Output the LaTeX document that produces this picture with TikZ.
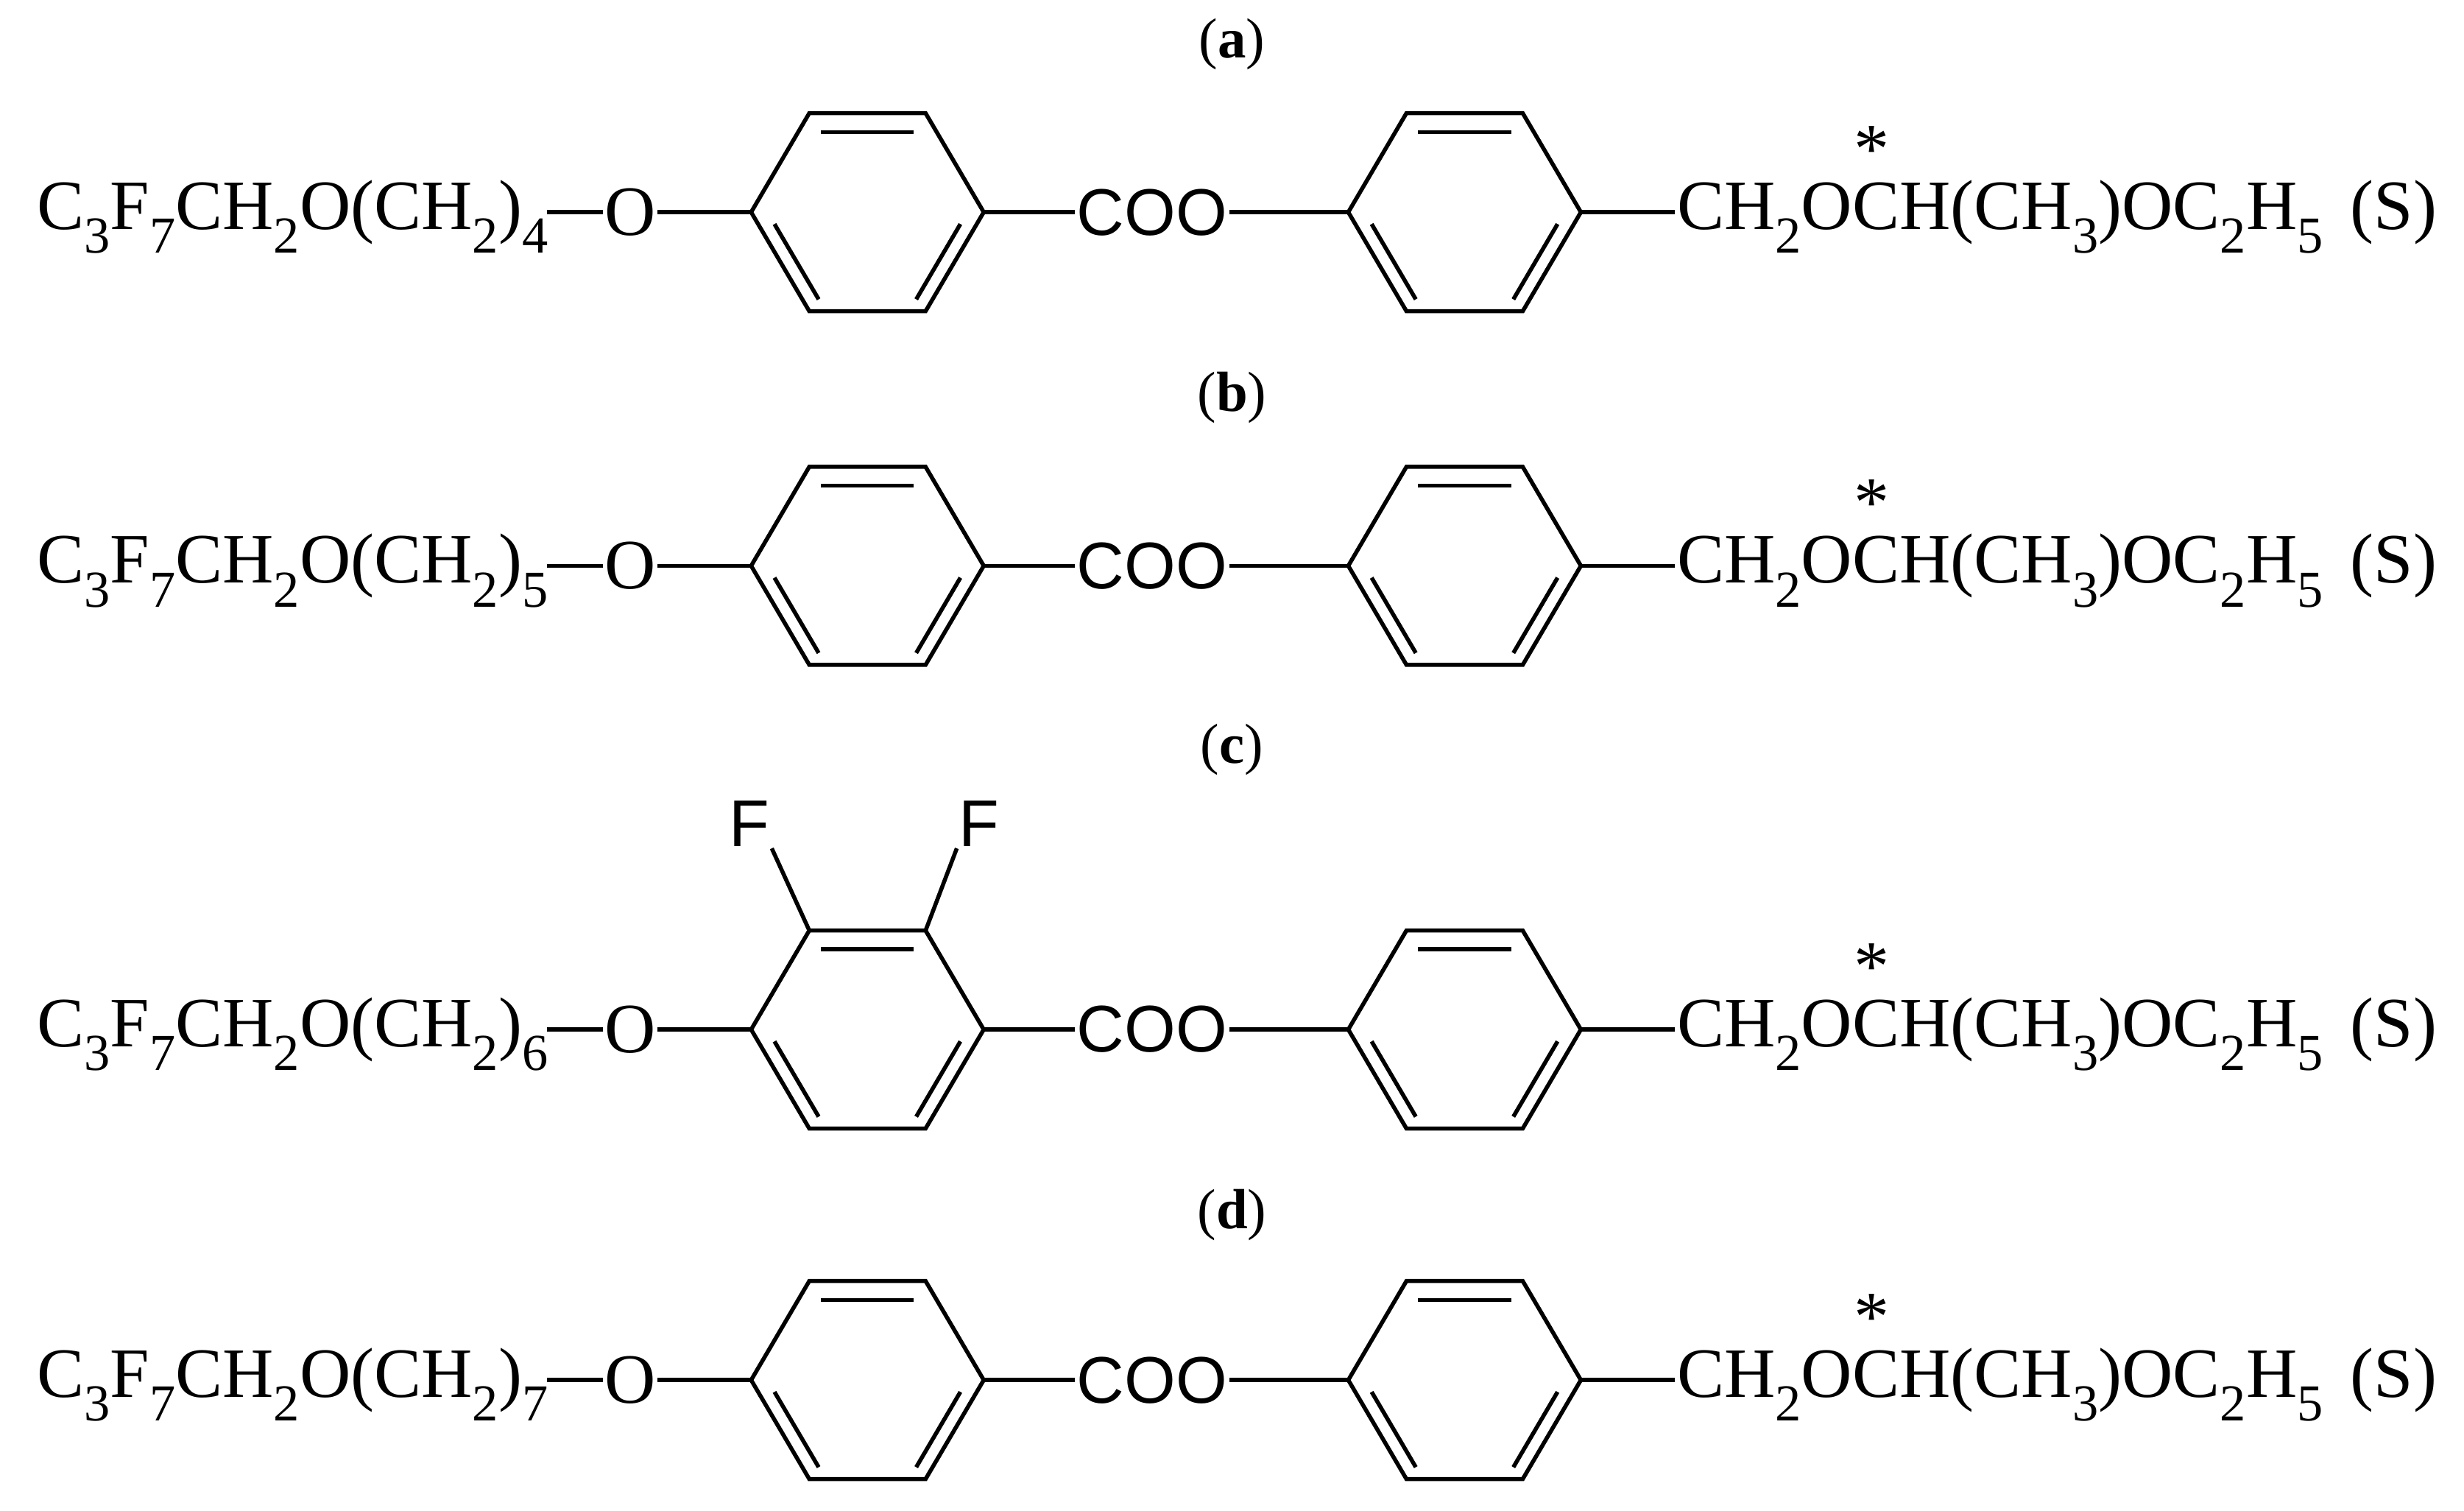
\documentclass[tikz,border=0pt]{standalone}
\usepackage{fontspec}
\setmainfont{Liberation Serif}
\newfontfamily\sansf{Liberation Sans}
\newcommand{\dn}[1]{\raisebox{-0.34em}{\fontsize{33}{33}\selectfont #1}}
\usetikzlibrary{calc}
\begin{document}
\begin{tikzpicture}[x=1pt,y=1pt,line width=2.6pt,
  txt/.style={inner sep=0pt,font=\fontsize{45}{45}\selectfont},
  stxt/.style={inner sep=0pt,font=\fontsize{42}{42}\selectfont\sansf},
  lab/.style={inner sep=0pt,font=\fontsize{36}{36}\selectfont}]
\useasboundingbox (0,0) rectangle (1568,961);
\newcommand{\ring}[3]{%
  \coordinate (#3-r) at (#1+74,#2);
  \coordinate (#3-tr) at (#1+37,#2+63);
  \coordinate (#3-tl) at (#1-37,#2+63);
  \coordinate (#3-l) at (#1-74,#2);
  \coordinate (#3-bl) at (#1-37,#2-63);
  \coordinate (#3-br) at (#1+37,#2-63);
  \draw[line join=miter] (#3-r)--(#3-tr)--(#3-tl)--(#3-l)--(#3-bl)--(#3-br)--cycle;
  \draw ($(#3-tl)!0.1!(#3-tr)+(0,-12)$) -- ($(#3-tl)!0.9!(#3-tr)+(0,-12)$);
  \draw ($(#3-l)!0.12!(#3-bl)+(10.4,0)$) -- ($(#3-l)!0.88!(#3-bl)+(10.4,0)$);
  \draw ($(#3-r)!0.12!(#3-br)+(-10.4,0)$) -- ($(#3-r)!0.88!(#3-br)+(-10.4,0)$);
}
\newcommand{\molrow}[5]{% y, n, name, label, label y
  \node[lab] (#3lab) at (784,#5) {(\textbf{#4})};
  \node[txt,anchor=east] (#3ch) at (350,#1-3) {C\dn{3}F\dn{7}CH\dn{2}O(CH\dn{2})\dn{#2}};
  \node[txt] (#3o) at (401,#1) {O};
  \ring{552}{#1}{#3a}
  \node[stxt,anchor=west] (#3coo) at (684,#1) {COO};
  \ring{932}{#1}{#3b}
  \node[txt,anchor=west] (#3tail) at (1066,#1-3) {CH\dn{2}OCH(CH\dn{3})OC\dn{2}H\dn{5}};
  \node[txt,anchor=east] (#3s) at (1552,#1) {(S)};
  \node[txt] (#3st) at (1191,#1+40) {*};
  \draw ([xshift=-2pt]#3ch.east |- #3o) -- (#3o.west);
  \draw (#3o.east) -- (#3a-l);
  \draw (#3a-r) -- (#3coo.west);
  \draw (#3coo.east) -- (#3b-l);
  \draw (#3b-r) -- (#3tail.west |- #3b-r);
}
\molrow{826}{4}{a}{a}{933}
\molrow{601}{5}{b}{b}{708}
\molrow{306}{6}{c}{c}{484}
\molrow{83}{7}{d}{d}{188}
\node[stxt] (f1) at (477,437) {F};
\node[stxt] (f2) at (623,437) {F};
\draw (ca-tl) -- (f1.south east);
\draw (ca-tr) -- (f2.south west);
\end{tikzpicture}
\end{document}
